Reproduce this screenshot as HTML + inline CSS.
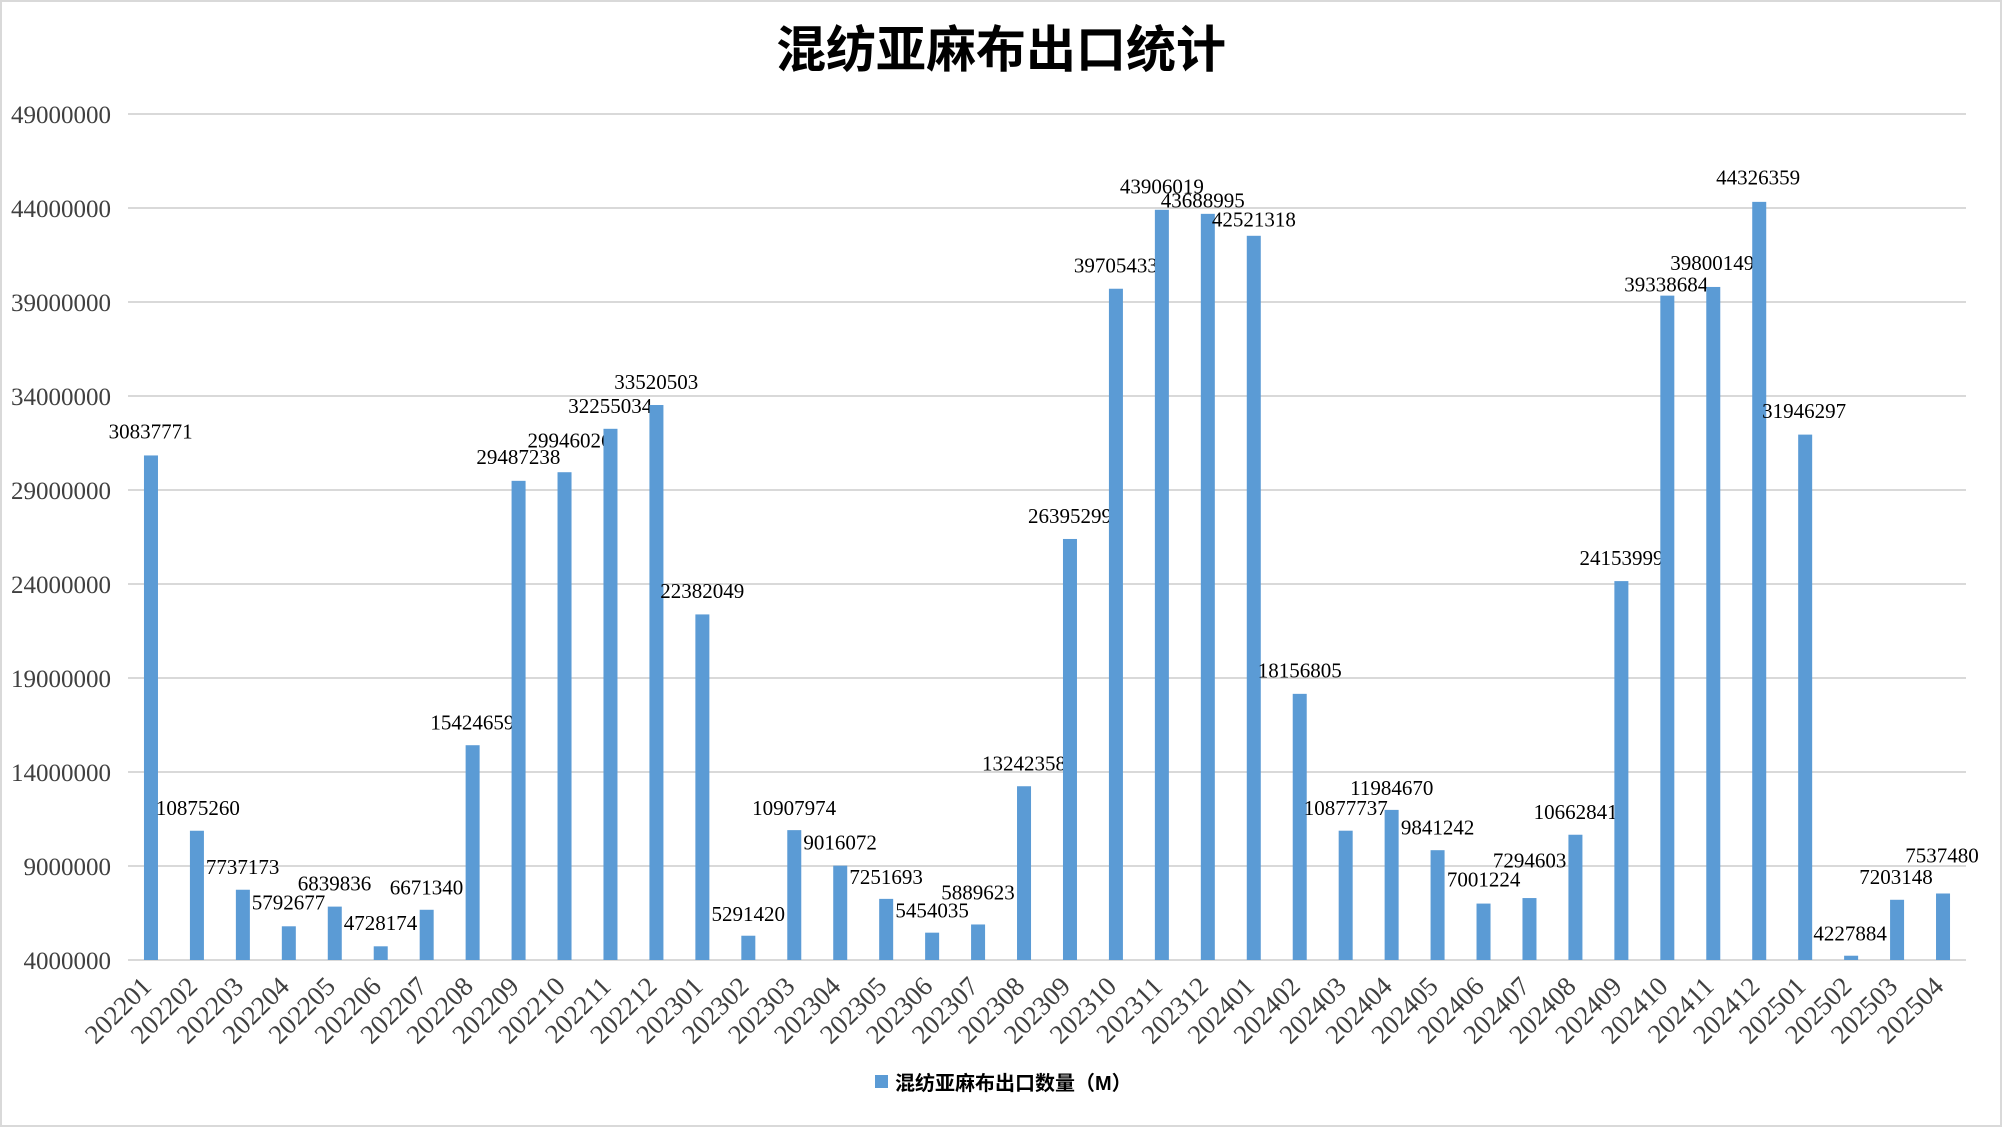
<!DOCTYPE html>
<html><head><meta charset="utf-8"><style>
html,body{margin:0;padding:0;background:#fff}
svg{display:block}
</style></head><body>
<svg id="c" width="2002" height="1127" xmlns="http://www.w3.org/2000/svg">
<rect x="1" y="1" width="2000" height="1125" fill="#fff" stroke="#d9d9d9" stroke-width="2"/>
<text x="1001" y="67" text-anchor="middle" font-family="'Liberation Sans','Noto Sans CJK SC',sans-serif" font-weight="bold" font-size="50" fill="#000">混纺亚麻布出口统计</text>
<g id="g"></g>
<rect x="875" y="1075" width="13" height="13" fill="#5b9bd5"/>
<text x="895" y="1090" font-family="'Liberation Sans','Noto Sans CJK SC',sans-serif" font-weight="bold" font-size="20" fill="#000">混纺亚麻布出口数量（M）</text>
</svg>
<script>
const vals=[30837771,10875260,7737173,5792677,6839836,4728174,6671340,15424659,29487238,29946026,32255034,33520503,22382049,5291420,10907974,9016072,7251693,5454035,5889623,13242358,26395299,39705433,43906019,43688995,42521318,18156805,10877737,11984670,9841242,7001224,7294603,10662841,24153999,39338684,39800149,44326359,31946297,4227884,7203148,7537480];
const lp=[[118,338],[155,633],[190,679],[226,707],[262,692],[298,723],[334,695],[370,566],[406,358],[446,345],[478,318],[514,299],[550,463],[586,716],[622,633],[658,660],[694,687],[730,713],[766,699],[802,598],[838,404],[874,208],[910,146],[942,157],[982,172],[1018,525],[1054,633],[1090,617],[1126,648],[1162,689],[1198,674],[1234,636],[1270,437],[1305,223],[1341,206],[1377,139],[1413,322],[1449,731],[1485,687],[1521,670]];
const s=1.2768;
const x0=128,x1=1966,yb=960,pm=18.8;
const n=40,cw=(x1-x0)/n;
let h='';
const Y=v=>yb-(v-4000000)/1e6*pm;
for(let k=0;k<10;k++){const v=4000000+k*5000000;const y=Y(v);
h+=`<line x1="${x0}" x2="${x1}" y1="${y}" y2="${y}" stroke="#d9d9d9" stroke-width="2"/>`;
h+=`<text x="111" y="${y+9}" text-anchor="end" font-family="'Liberation Serif',serif" font-size="25" fill="#404040">${v}</text>`;}
for(let i=0;i<n;i++){const c=x0+cw*(i+0.5);const y=Y(vals[i]);
h+=`<rect x="${c-7}" y="${y}" width="14" height="${yb-y}" fill="#5b9bd5"/>`;
h+=`<text x="${lp[i][0]*s}" y="${lp[i][1]*s+7}" text-anchor="middle" font-family="'Liberation Serif',serif" font-size="21" fill="#000">${vals[i]}</text>`;
const m=202201+(i<12?i:i<24?100+i-12:i<36?200+i-24:300+i-36);
h+=`<text transform="translate(${c+2},${yb+28}) rotate(-45)" text-anchor="end" font-family="'Liberation Serif',serif" font-size="27" fill="#404040">${m}</text>`;}
document.getElementById('g').innerHTML=h;
</script>
</body></html>
